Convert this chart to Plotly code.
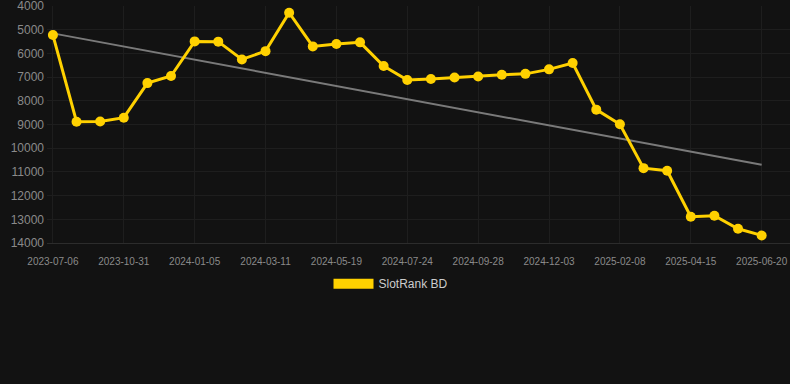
import plotly.graph_objects as go

dates = ["2023-07-06", "2023-08-13", "2023-09-21", "2023-10-31", "2023-11-22", "2023-12-14",
         "2024-01-05", "2024-01-27", "2024-02-18", "2024-03-11", "2024-04-03", "2024-04-26",
         "2024-05-19", "2024-06-10", "2024-07-02", "2024-07-24", "2024-08-15", "2024-09-06",
         "2024-09-28", "2024-10-20", "2024-11-11", "2024-12-03", "2024-12-25", "2025-01-17",
         "2025-02-08", "2025-03-02", "2025-03-24", "2025-04-15", "2025-05-07", "2025-05-29",
         "2025-06-20"]
rank = [5220, 8880, 8870, 8710, 7250, 6950, 5490, 5500, 6250, 5900, 4280, 5700,
        5600, 5530, 6530, 7120, 7080, 7010, 6970, 6900, 6860, 6670, 6400, 8370,
        8990, 10840, 10950, 12890, 12850, 13400, 13680]
trend_x = [dates[0], dates[-1]]
trend_y = [5150, 10700]
tick_labels = dates[::3]
y_ticks = list(range(4000, 14001, 1000))
y_tick_text = [str(v) for v in y_ticks]
series_name = "SlotRank BD"

YELLOW = "#FFD100"
BG = "#121212"
GRID = "#1e1e1e"
TXT = "#8a8a8a"

fig = go.Figure()
fig.add_trace(go.Scatter(x=trend_x, y=trend_y, mode="lines",
                         line=dict(color="#7a7a7a", width=2),
                         showlegend=False, hoverinfo="skip"))
fig.add_trace(go.Scatter(x=dates, y=rank, mode="lines+markers",
                         line=dict(color=YELLOW, width=3),
                         marker=dict(color=YELLOW, size=10),
                         name=series_name, showlegend=False, legendgroup="a"))
fig.add_trace(go.Scatter(x=[None], y=[None], mode="lines",
                         line=dict(color=YELLOW, width=11),
                         name=series_name, showlegend=True, legendgroup="a"))

fig.update_layout(
    width=790, height=384,
    paper_bgcolor=BG, plot_bgcolor=BG,
    margin=dict(l=47, r=0, t=6, b=141),
    font=dict(family="Liberation Sans, Arial, sans-serif", color=TXT),
    xaxis=dict(type="category", categoryorder="array", categoryarray=dates,
               range=[-0.25, 31.2], tickmode="array", tickvals=tick_labels,
               ticktext=tick_labels, showgrid=True, gridcolor=GRID, gridwidth=1,
               zeroline=False, showline=True, linecolor="#2c2c2c", linewidth=1,
               tickfont=dict(size=10, color=TXT),
               ticks="", ticklen=0, ticklabelstandoff=9),
    yaxis=dict(range=[14000, 3995], tickmode="array", tickvals=y_ticks,
               ticktext=y_tick_text, ticklabeloverflow="allow",
               showgrid=True, gridcolor=GRID, gridwidth=1, zeroline=False,
               tickfont=dict(size=12, color=TXT), ticks="", ticklabelstandoff=2),
    legend=dict(orientation="h", x=0.463, xanchor="center", y=-0.111, yanchor="top",
                font=dict(size=12, color="#cccccc"), itemwidth=40,
                bgcolor="rgba(0,0,0,0)"),
    showlegend=True,
)

fig.write_html("out.html", config={"displayModeBar": False},
               post_script="document.body.style.margin='0';document.body.style.background='#121212';")
